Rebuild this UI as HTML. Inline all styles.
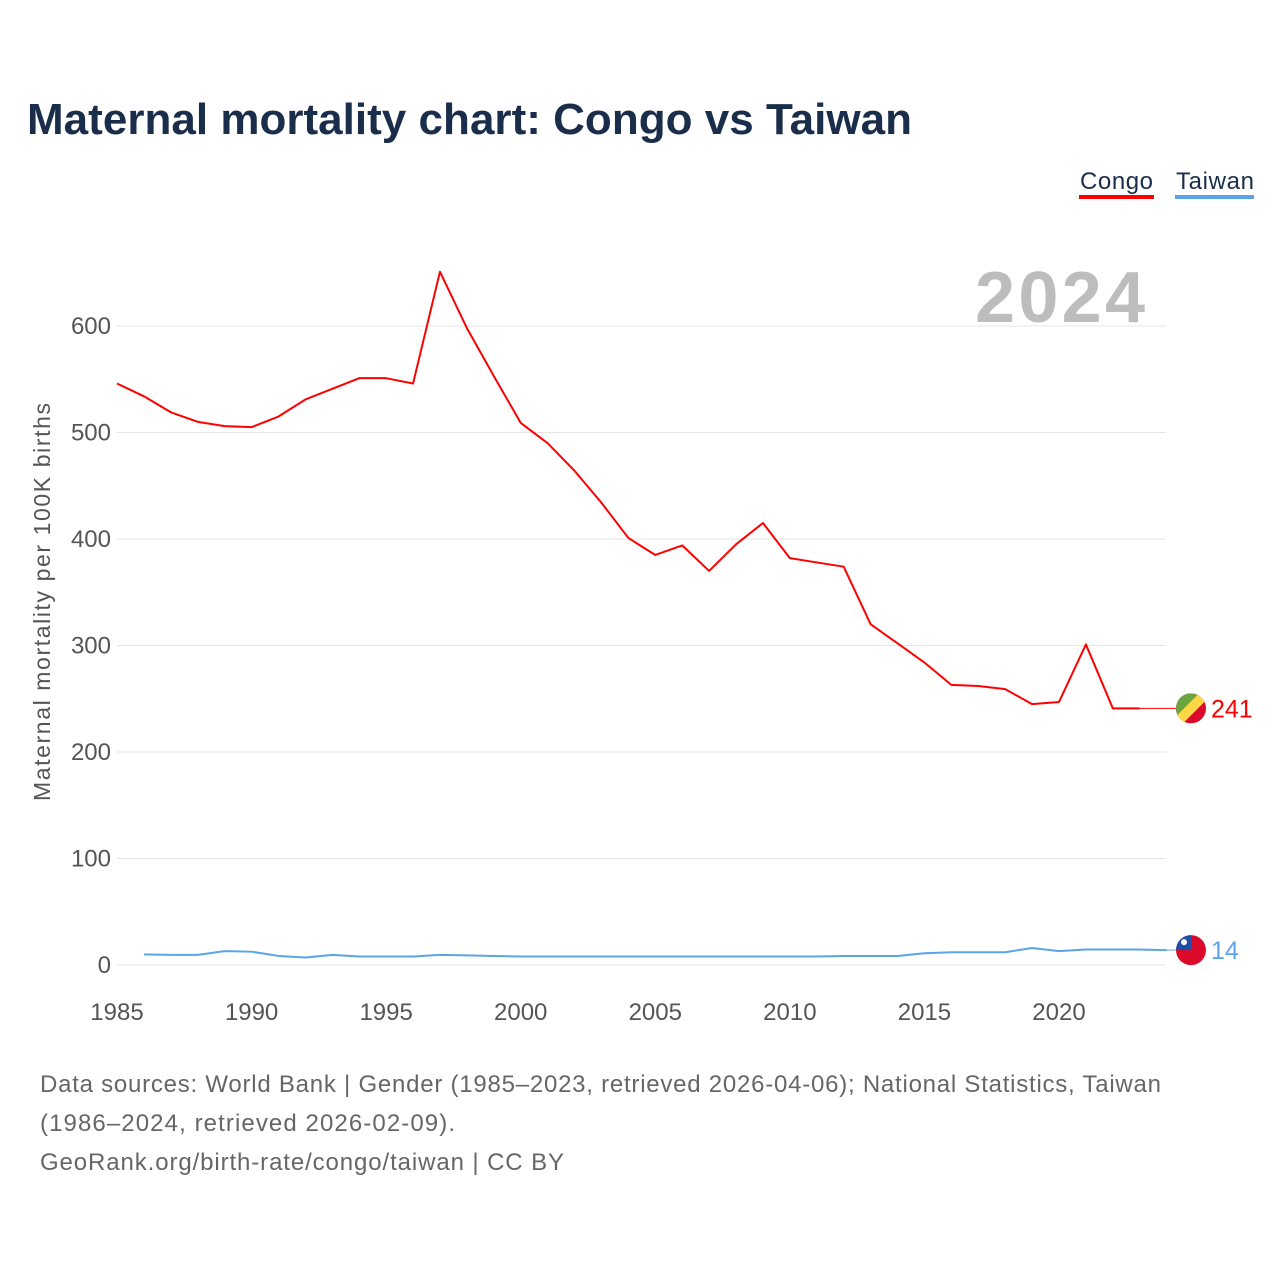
<!DOCTYPE html>
<html><head><meta charset="utf-8"><style>
body{margin:0;background:#fff;font-family:"Liberation Sans",sans-serif;}
svg text{font-family:"Liberation Sans",sans-serif;}
</style></head><body>
<svg width="1280" height="1280" xmlns="http://www.w3.org/2000/svg" id="chart">
<text x="27" y="134" font-size="44" font-weight="bold" fill="#1a2e4c" textLength="885">Maternal mortality chart: Congo vs Taiwan</text>
<g>
<text x="1080" y="189" font-size="24" fill="#1a2e4c" textLength="73">Congo</text>
<rect x="1079" y="195" width="75" height="4" fill="#ff0000"/>
<text x="1176" y="189" font-size="24" fill="#1a2e4c" textLength="78">Taiwan</text>
<rect x="1175" y="195" width="79" height="4" fill="#5aa5ea"/>
</g>
<text x="975" y="322" font-size="72" font-weight="bold" fill="#bdbdbd" textLength="170">2024</text>
<g id="grid"></g>
<g id="series"></g>
<text transform="translate(50,602) rotate(-90)" font-size="23" fill="#555" text-anchor="middle" textLength="398">Maternal mortality per 100K births</text>
<g font-size="24" fill="#666">
<text x="40" y="1092" textLength="1121">Data sources: World Bank | Gender (1985–2023, retrieved 2026-04-06); National Statistics, Taiwan</text>
<text x="40" y="1131" textLength="415">(1986–2024, retrieved 2026-02-09).</text>
<text x="40" y="1170" textLength="524">GeoRank.org/birth-rate/congo/taiwan | CC BY</text>
</g>
</svg>
<script>
const yTicks=[0,100,200,300,400,500,600];
const xTicks=[1985,1990,1995,2000,2005,2010,2015,2020];
const congoYears=[1985,1986,1987,1988,1989,1990,1991,1992,1993,1994,1995,1996,1997,1998,1999,2000,2001,2002,2003,2004,2005,2006,2007,2008,2009,2010,2011,2012,2013,2014,2015,2016,2017,2018,2019,2020,2021,2022,2023];
const congoValues=[546,534,519,510,506,505,515,531,541,551,551,546,651,598,553,509,490,464,434,401,385,394,370,395,415,382,378,374,320,302,284,263,262,259,245,247,301,241,241];
const taiwanYears=[1986,1987,1988,1989,1990,1991,1992,1993,1994,1995,1996,1997,1998,1999,2000,2001,2002,2003,2004,2005,2006,2007,2008,2009,2010,2011,2012,2013,2014,2015,2016,2017,2018,2019,2020,2021,2022,2023,2024];
const taiwanValues=[10,9.5,9.5,13,12.5,8.5,7,9.5,8,8,8,9.5,9,8.5,8,8,8,8,8,8,8,8,8,8,8,8,8.5,8.5,8.5,11,12,12,12,16,13,14.5,14.5,14.5,14];
const NS="http://www.w3.org/2000/svg";
const X=y=>117+(y-1985)*(1059-117)/35;
const Y=v=>965-v*(965-326)/600;
function mk(tag,attrs,parent){const e=document.createElementNS(NS,tag);for(const k in attrs)e.setAttribute(k,attrs[k]);parent.appendChild(e);return e;}
const grid=document.getElementById('grid'),ser=document.getElementById('series');
yTicks.forEach(t=>{
 const l=mk('line',{x1:117,x2:1166,y1:Y(t),y2:Y(t),stroke:'#e6e6e6','stroke-width':1},grid);
 
 
 const tx=mk('text',{x:111,y:Y(t)+8,'font-size':24,fill:'#555','text-anchor':'end'},grid);
 tx.textContent=t;
 
 
});
xTicks.forEach(t=>{
 const tx=mk('text',{x:X(t),y:1020,'font-size':24,fill:'#555','text-anchor':'middle'},grid);
 tx.textContent=t;
 
 
});
function line(years,vals,color,name){
 const p=mk('polyline',{points:years.map((y,i)=>X(y)+','+Y(vals[i])).join(' '),fill:'none',stroke:color,'stroke-width':2,'stroke-linejoin':'round'},ser);
 
 
}
line(congoYears,congoValues,'#ff0000','congo-line');
line(taiwanYears,taiwanValues,'#5aa5ea','taiwan-line');
const cv=congoValues[congoValues.length-1], tv=taiwanValues[taiwanValues.length-1];
const c1=mk('line',{x1:X(2023),x2:1178,y1:Y(cv),y2:Y(cv),stroke:'#ff0000','stroke-width':1},ser);


const c2=mk('line',{x1:X(2024),x2:1178,y1:Y(tv),y2:Y(tv),stroke:'#5aa5ea','stroke-width':1},ser);


const defs=mk('defs',{},ser);
const cp1=mk('clipPath',{id:'cc'},defs);mk('circle',{cx:1191,cy:Y(cv),r:15},cp1);
const cp2=mk('clipPath',{id:'tc'},defs);mk('circle',{cx:1191,cy:Y(tv),r:15},cp2);
const fg=mk('g',{'clip-path':'url(#cc)'},ser);


const cy=Y(cv);
mk('rect',{x:1176,y:cy-15,width:30,height:30,fill:'#dc0a2a'},fg);
mk('polygon',{points:`1176,${cy-15} 1206,${cy-15} 1176,${cy+15}`,fill:'#6ba53e'},fg);
mk('polygon',{points:`1199,${cy-15} 1206,${cy-15} 1206,${cy-8} 1183,${cy+15} 1176,${cy+15} 1176,${cy+8}`,fill:'#fcd847'},fg);
const tg=mk('g',{'clip-path':'url(#tc)'},ser);


const ty=Y(tv);
mk('rect',{x:1176,y:ty-15,width:30,height:30,fill:'#dc0a2a'},tg);
mk('rect',{x:1176,y:ty-15,width:15,height:15,fill:'#1e4fa8'},tg);
mk('circle',{cx:1184,cy:ty-8,r:3,fill:'#fff'},tg);
const l1=mk('text',{x:1211,y:Y(cv)+9,'font-size':25,fill:'#ff0000'},ser);
l1.textContent=cv;


const l2=mk('text',{x:1211,y:Y(tv)+9,'font-size':25,fill:'#5aa5ea'},ser);
l2.textContent=tv;


</script>
</body></html>
